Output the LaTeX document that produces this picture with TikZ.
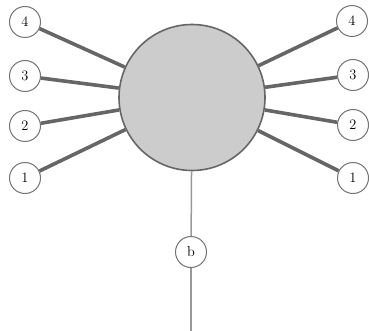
\documentclass[tikz,border=0pt]{standalone}
\begin{document}
\begin{tikzpicture}[x=1pt,y=-1pt,
  lbl/.style={circle,draw=black!55,fill=white,line width=1pt,minimum size=31pt,inner sep=0pt,font=\Large},
  hub/.style={circle,draw=black!60,fill=black!20,line width=1.6pt,minimum size=146pt,inner sep=0pt},
  arm/.style={draw=black!60,line width=3.6pt},
  stem/.style={draw=black!40,line width=1.5pt}]
\useasboundingbox (0,0) rectangle (369,331);
\node[hub] (big) at (192,97.5) {};
\node[lbl] (l4) at (25,22) {4};
\node[lbl] (l3) at (25,76) {3};
\node[lbl] (l2) at (25,126) {2};
\node[lbl] (l1) at (25,178) {1};
\node[lbl] (r4) at (352,21) {4};
\node[lbl] (r3) at (353,75) {3};
\node[lbl] (r2) at (353,125) {2};
\node[lbl] (r1) at (353,178) {1};
\node[lbl] (b) at (191,252) {b};
\coordinate (end) at (191,331);
\foreach \n in {l4,l3,l2,l1,r4,r3,r2,r1} {\draw[arm] (\n) -- (big);}
\draw[stem] (big) -- (b);
\draw[stem] (b) -- (end);
\end{tikzpicture}
\end{document}
